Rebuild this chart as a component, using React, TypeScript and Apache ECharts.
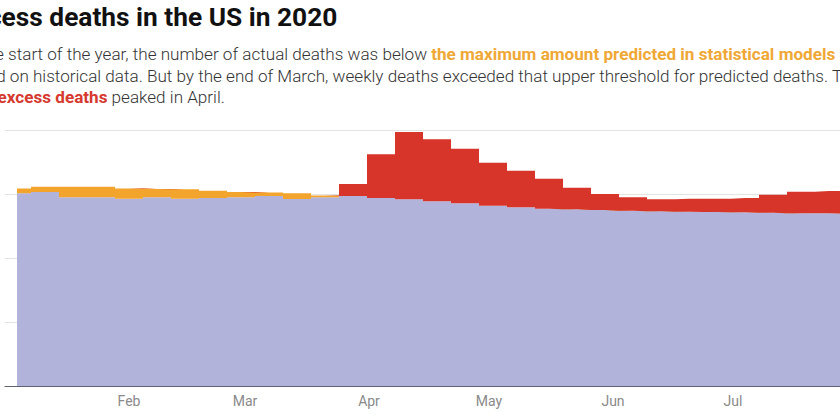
import React, { useEffect, useRef } from "react";
import * as echarts from "echarts";

// Week-ending dates (CDC weeks end on Saturday)
const weeks = [
  "2020-01-04", "2020-01-11", "2020-01-18", "2020-01-25",
  "2020-02-01", "2020-02-08", "2020-02-15", "2020-02-22", "2020-02-29",
  "2020-03-07", "2020-03-14", "2020-03-21", "2020-03-28",
  "2020-04-04", "2020-04-11", "2020-04-18", "2020-04-25",
  "2020-05-02", "2020-05-09", "2020-05-16", "2020-05-23", "2020-05-30",
  "2020-06-06", "2020-06-13", "2020-06-20", "2020-06-27",
  "2020-07-04", "2020-07-11", "2020-07-18", "2020-07-25", "2020-08-01",
];

// Deaths up to the predicted upper threshold (actual deaths while below it)
const baseDeaths = [
  60200, 60600, 59000, 59000, 58500, 59000, 58500, 58750, 59000, 59400,
  58400, 59000, 59400, 58750, 58350, 57700, 57100, 56350, 55850, 55400,
  55200, 55000, 54800, 54600, 54450, 54400, 54300, 54150, 53950, 53950, 53900,
];

// Gap between actual deaths and the maximum predicted
const belowThreshold = [
  1550, 1650, 3300, 3300, 3250, 2600, 2950, 2300, 1650, 1050,
  1800, 500, 0, 0, 0, 0, 0, 0, 0, 0,
  0, 0, 0, 0, 0, 0, 0, 0, 0, 0, 0,
];

// Excess deaths above the threshold
const excessDeaths = [
  0, 0, 0, 0, 0, 0, 0, 0, 0, 0,
  0, 0, 3750, 13650, 21000, 19400, 17050, 13450, 11450, 9400,
  6750, 5000, 4200, 3750, 4050, 4150, 4450, 5600, 6750, 6950, 6900,
];

const monthStarts = ["2020-02-01", "2020-03-01", "2020-04-01", "2020-05-01", "2020-06-01", "2020-07-01", "2020-08-01"];
const monthLabels = ["Feb", "Mar", "Apr", "May", "Jun", "Jul", "Aug"];
const axisStart = "2020-01-01";
const axisEnd = "2020-08-28";

const titleText = "Excess deaths in the US in 2020";
const subLine1a = "At the start of the year, the number of actual deaths was below ";
const subLine1b = "the maximum amount predicted in statistical models";
const subLine2 = "based on historical data. But by the end of March, weekly deaths exceeded that upper threshold for predicted deaths. The";
const subLine3a = "total ";
const subLine3b = "excess deaths";
const subLine3c = " peaked in April.";

const ts = (s: string) => {
  const [y, m, d] = s.split("-").map(Number);
  return new Date(y, m - 1, d).getTime();
};

const SHIFT = 40;
const PX_PER_DAY = 4;
const DAY = 86400000;

export default function App() {
  const ref = useRef<HTMLDivElement>(null);
  useEffect(() => {
    if (!ref.current) return;
    const chart = echarts.init(ref.current, undefined, { renderer: "svg" });
    const xs = weeks.map(ts);
    const tickTs = monthStarts.map(ts);
    const minT = ts(axisStart);
    const maxT = ts(axisEnd);
    const days = Math.round((maxT - minT) / DAY);
    const mk = (arr: number[]) => arr.map((v, i) => [xs[i], v]);
    const areaSeries = (name: string, data: number[], color: string) => ({
      name,
      type: "line",
      step: "middle",
      stack: "total",
      symbol: "none",
      lineStyle: { width: 0, color },
      itemStyle: { color },
      areaStyle: { color, opacity: 1 },
      data: mk(data),
    });
    const subStyle = { fontFamily: "Roboto", fontWeight: 300, fontSize: 17.1, fill: "#333333", lineHeight: 21 };
    chart.setOption({
      animation: false,
      backgroundColor: "#ffffff",
      grid: { left: SHIFT + 5, top: 130, height: 256, width: days * PX_PER_DAY },
      xAxis: {
        type: "time",
        min: minT,
        max: maxT,
        minInterval: 28 * DAY,
        maxInterval: 31 * DAY,
        splitLine: { show: false },
        axisTick: { show: false },
        axisLine: { show: true, lineStyle: { color: "#5f6270", width: 1.2 } },
        axisLabel: {
          formatter: (v: number) => {
            const d = new Date(v);
            const key = new Date(d.getFullYear(), d.getMonth(), 1).getTime();
            const i = tickTs.indexOf(key);
            return i >= 0 && d.getDate() === 1 ? monthLabels[i] : "";
          },
          color: "#8a8a8a",
          fontFamily: "Roboto",
          fontSize: 14,
          margin: 8,
          hideOverlap: false,
        },
      },
      yAxis: {
        type: "value",
        min: 0,
        max: 80000,
        interval: 20000,
        axisLabel: { show: false },
        axisLine: { show: false },
        axisTick: { show: false },
        splitLine: { show: true, lineStyle: { color: "#e3e3e3", width: 1 } },
      },
      series: [
        areaSeries("Deaths", baseDeaths, "#b2b3da"),
        areaSeries("Below maximum predicted", belowThreshold, "#f3a42c"),
        areaSeries("Excess deaths", excessDeaths, "#d8352a"),
      ],
      graphic: [
        {
          type: "text",
          x: 0,
          y: 17,
          style: {
            text: titleText,
            fontFamily: "Roboto",
            fontWeight: "bold",
            fontSize: 26.3,
            fill: "#111111",
            verticalAlign: "middle",
          },
        },
        {
          type: "text",
          x: 0,
          y: 54,
          style: {
            text: `{n|${subLine1a}}{o|${subLine1b}}`,
            verticalAlign: "middle",
            rich: {
              n: subStyle,
              o: { ...subStyle, fontWeight: "bold", fill: "#efa835" },
            },
          },
        },
        {
          type: "text",
          x: 0,
          y: 76,
          style: { text: subLine2, ...subStyle, verticalAlign: "middle" },
        },
        {
          type: "text",
          x: 0,
          y: 97,
          style: {
            text: `{n|${subLine3a}}{r|${subLine3b}}{n|${subLine3c}}`,
            verticalAlign: "middle",
            rich: {
              n: subStyle,
              r: { ...subStyle, fontWeight: "bold", fill: "#d6392e" },
            },
          },
        },
      ],
    });
    return () => chart.dispose();
  }, []);
  return (
    <div style={{ position: "fixed", left: 0, top: 0, width: 840, height: 415, overflow: "hidden", background: "#fff" }}>
      <div ref={ref} style={{ position: "absolute", left: -SHIFT, top: 0, width: 1100, height: 415 }} />
    </div>
  );
}
